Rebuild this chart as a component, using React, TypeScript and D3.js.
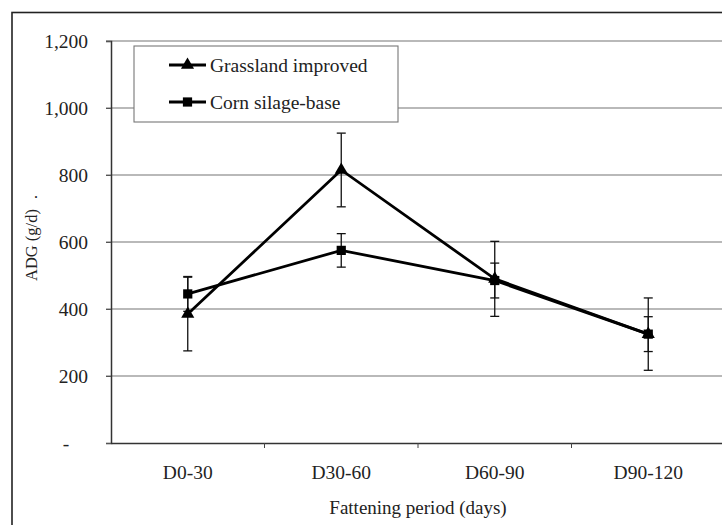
import React, { useEffect, useRef } from "react";
import * as d3 from "d3";

const categories = ["D0-30", "D30-60", "D60-90", "D90-120"];
const grassland = [385, 815, 490, 325];
const grasslandErr = [110, 110, 112, 108];
const corn = [445, 575, 485, 325];
const cornErr = [52, 50, 52, 52];
const yTicks = [0, 200, 400, 600, 800, 1000, 1200];
const seriesNames = ["Grassland improved", "Corn silage-base"];

function App() {
  const chartRef = useRef<SVGSVGElement>(null);

  function drawChart() {
    const svg = d3.select(chartRef.current);
    svg.selectAll("*").remove();

    const width = 722,
      height = 525;
    const margin = { top: 41, left: 111, bottom: 443, right: 725 };
    const font = "Liberation Serif, serif";

    svg.append("rect").attr("width", width).attr("height", height).attr("fill", "#fff");

    // outer chart frame
    svg
      .append("rect")
      .attr("x", 12)
      .attr("y", 12.5)
      .attr("width", 760)
      .attr("height", 560)
      .attr("fill", "none")
      .attr("stroke", "#222")
      .attr("stroke-width", 1.6);

    const x = d3.scaleBand().domain(categories).range([margin.left, margin.right]);
    const y = d3.scaleLinear().domain([0, 1200]).range([margin.bottom, margin.top]);
    const cx = (c: string) => (x(c) as number) + x.bandwidth() / 2;

    // gridlines
    svg
      .append("g")
      .selectAll("line")
      .data(yTicks.filter((t) => t > 0))
      .enter()
      .append("line")
      .attr("x1", margin.left - 5)
      .attr("x2", width)
      .attr("y1", (d) => y(d))
      .attr("y2", (d) => y(d))
      .attr("stroke", "#747474")
      .attr("stroke-width", 1.1);

    // y axis
    const yAxis = d3
      .axisLeft(y)
      .tickValues(yTicks)
      .tickSize(5)
      .tickPadding(18)
      .tickFormat((d) => (+d === 0 ? "-" : d3.format(",")(+d)));
    const gy = svg
      .append("g")
      .attr("transform", "translate(" + margin.left + ",0)")
      .call(yAxis)
      .attr("font-family", font)
      .attr("font-size", 19.5);
    gy.select(".domain").attr("stroke", "#333").attr("stroke-width", 1.5);
    gy.selectAll(".tick line").attr("stroke", "#555");
    gy.selectAll(".tick text").attr("fill", "#222");
    gy.selectAll(".tick text")
      .filter((d: any) => d === 0)
      .attr("text-anchor", "middle")
      .attr("x", -45);

    // x axis
    const xAxis = d3.axisBottom(x).tickSize(0).tickPadding(22);
    const gx = svg
      .append("g")
      .attr("transform", "translate(0," + margin.bottom + ")")
      .call(xAxis)
      .attr("font-family", font)
      .attr("font-size", 19.5);
    gx.select(".domain").attr("stroke", "#333").attr("stroke-width", 1.5);
    gx.selectAll(".tick text").attr("fill", "#222");
    svg
      .append("g")
      .selectAll("line")
      .data(categories.slice(1))
      .enter()
      .append("line")
      .attr("x1", (d) => x(d) as number)
      .attr("x2", (d) => x(d) as number)
      .attr("y1", margin.bottom)
      .attr("y2", margin.bottom + 5)
      .attr("stroke", "#444");

    // axis titles
    svg
      .append("text")
      .attr("x", (margin.left + margin.right) / 2)
      .attr("y", 514)
      .attr("text-anchor", "middle")
      .attr("font-family", font)
      .attr("font-size", 19)
      .attr("fill", "#222")
      .text("Fattening period (days)");

    const yt = svg
      .append("text")
      .attr("transform", "translate(37,281) rotate(-90)")
      .attr("font-family", font)
      .attr("font-size", 16.5)
      .attr("fill", "#222");
    yt.append("tspan").text("ADG (g/d)");
    yt.append("tspan").attr("dx", 10).text(".");

    const series = [
      { name: seriesNames[0], values: grassland, err: grasslandErr, shape: d3.symbolTriangle, size: 75 },
      { name: seriesNames[1], values: corn, err: cornErr, shape: d3.symbolSquare, size: 85 },
    ];

    const line = d3
      .line<number>()
      .x((d, i) => cx(categories[i]))
      .y((d) => y(d));

    series.forEach((s) => {
      const g = svg.append("g");
      // error bars
      s.values.forEach((v, i) => {
        const px = cx(categories[i]);
        const hi = y(v + s.err[i]);
        const lo = y(v - s.err[i]);
        g.append("line").attr("x1", px).attr("x2", px).attr("y1", hi).attr("y2", lo).attr("stroke", "#111").attr("stroke-width", 1.3);
        [hi, lo].forEach((yy) => {
          g.append("line").attr("x1", px - 4.5).attr("x2", px + 4.5).attr("y1", yy).attr("y2", yy).attr("stroke", "#111").attr("stroke-width", 1.3);
        });
      });
    });

    series.forEach((s) => {
      const g = svg.append("g");
      g.append("path")
        .attr("d", line(s.values))
        .attr("fill", "none")
        .attr("stroke", "#000")
        .attr("stroke-width", 2.8);
      g.selectAll("path.m")
        .data(s.values)
        .enter()
        .append("path")
        .attr("class", "m")
        .attr("transform", (d, i) => "translate(" + cx(categories[i]) + "," + y(d) + ")")
        .attr("d", d3.symbol().type(s.shape).size(s.size)())
        .attr("fill", "#000");
    });

    // legend
    const lg = svg.append("g");
    lg.append("rect")
      .attr("x", 134)
      .attr("y", 46)
      .attr("width", 264)
      .attr("height", 76)
      .attr("fill", "#fff")
      .attr("stroke", "#777")
      .attr("stroke-width", 1.1);
    series.forEach((s, i) => {
      const ly = 65 + i * 37;
      lg.append("line").attr("x1", 169).attr("x2", 206).attr("y1", ly).attr("y2", ly).attr("stroke", "#000").attr("stroke-width", 2.8);
      lg.append("path")
        .attr("transform", "translate(187.5," + ly + ")")
        .attr("d", d3.symbol().type(s.shape).size(s.size)())
        .attr("fill", "#000");
      lg.append("text")
        .attr("x", 210)
        .attr("y", ly + 7)
        .attr("font-family", font)
        .attr("font-size", 19.5)
        .attr("fill", "#222")
        .text(s.name);
    });
  }

  useEffect(() => {
    drawChart();
  }, []);

  return (
    <div>
      <style>{"body{margin:0}"}</style>
      <svg ref={chartRef} width={722} height={525} style={{ display: "block" }}></svg>
    </div>
  );
}

export default App;
